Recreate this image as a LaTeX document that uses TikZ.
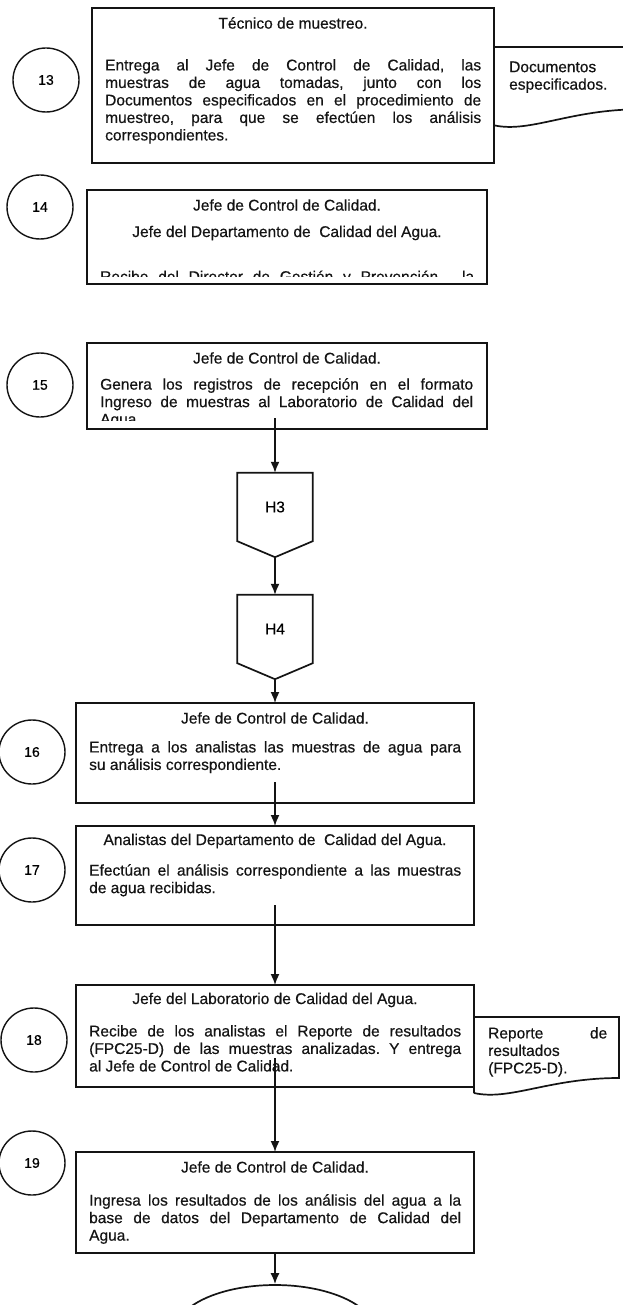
\documentclass[tikz,border=0pt]{standalone}
\usepackage{fontspec}
\setmainfont{Liberation Sans}[FakeBold=0.5]
\frenchspacing
\usetikzlibrary{positioning, calc, arrows.meta, shapes.geometric}
\definecolor{Ink}{HTML}{141414}
\definecolor{Paper}{HTML}{FFFFFF}
\tikzset{
    paso/.style={rectangle, draw=Ink, line width=1.7pt, anchor=north west, inner sep=0pt, outer sep=0pt},
    num/.style={ellipse, draw=Ink, line width=1.4pt, minimum width=66pt, minimum height=64pt, inner sep=0pt, font=\fontsize{14}{16}\selectfont},
    titulo/.style={font=\fontsize{15.5}{17.5}\selectfont, text=Ink, inner sep=0pt},
    cuerpo/.style={font=\fontsize{15.5}{17.5}\selectfont, text=Ink, inner sep=0pt, align=justify, anchor=north west},
    hoja/.style={rectangle, draw=none, anchor=north west, inner sep=0pt, outer sep=0pt},
    conector/.style={rectangle, draw=none, minimum width=75pt, minimum height=68pt, inner sep=0pt, font=\fontsize{15.5}{17.5}\selectfont},
    contorno/.style={draw=Ink, line width=1.7pt},
    flecha/.style={-{Latex[length=11pt, width=9pt]}, line width=1.6pt, draw=Ink},
}

\begin{document}
\begin{tikzpicture}[x=1pt, y=-1pt]
    \useasboundingbox[fill=Paper] (0,0) rectangle (623,1305);
    \clip (0,0) rectangle (623,1305);

    % Numeros de paso
    \foreach \n/\x/\y in {13/46/80, 14/40/207, 15/40/385, 16/32/752, 17/32/870, 18/34/1040, 19/32/1163}
        \node[num] (c\n) at (\x,\y) {\n};

    % Cajas
    \foreach \n/\x/\y/\w/\h in {13/92/8/402/155, 14/87/190/400/94, 15/87/343/400/86,
                               16/76/703/398/100, 17/76/826/398/99, 18/76/985/398/102, 19/76/1152/398/101}
        \node[paso, minimum width=\w pt, minimum height=\h pt] (b\n) at (\x,\y) {};

    \foreach \n/\t in {13/{Técnico de muestreo.}, 14/{Jefe de Control de Calidad.}, 15/{Jefe de Control de Calidad.},
                       16/{Jefe de Control de Calidad.}, 17/{Analistas del Departamento de\ \ Calidad del Agua.},
                       18/{Jefe del Laboratorio de Calidad del Agua.}, 19/{Jefe de Control de Calidad.}}
        \node[titulo] (t\n) at ($(b\n.north)+(0,15)$) {\t};

    \node[cuerpo, text width=376pt] (x13) at ($(b13.north west)+(13,51)$)
        {Entrega al Jefe de Control de Calidad, las\linebreak muestras de agua tomadas, junto con los\linebreak
         Documentos especificados en el procedimiento de\linebreak muestreo, para que se efectúen los análisis\linebreak
         correspondientes.};

    \node[titulo] (s14) at ($(b14.north)+(0,43)$) {Jefe del Departamento de\ \ Calidad del Agua.};
    \begin{scope}
        \clip (b14.north west) rectangle ($(b14.south east)+(0,-7)$);
        \node[cuerpo, text width=374pt, anchor=base west] (x14) at ($(b14.south west)+(13,-2)$)
            {\parfillskip=0pt Recibe del Director de Gestión y Prevención,\ \ la\par};
    \end{scope}

    \begin{scope}
        \clip (b15.north west) rectangle ($(b15.south east)+(0,-9)$);
        \node[cuerpo, text width=373pt] (x15) at ($(b15.north west)+(13,35)$)
            {Genera los registros de recepción en el formato\linebreak
             Ingreso de muestras al Laboratorio de Calidad del\linebreak Agua.};
    \end{scope}

    \node[cuerpo, text width=372pt] (x16) at ($(b16.north west)+(13,38)$)
        {Entrega a los analistas las muestras de agua para\linebreak su análisis correspondiente.};
    \node[cuerpo, text width=372pt] (x17) at ($(b17.north west)+(13,38)$)
        {Efectúan el análisis correspondiente a las muestras\linebreak de agua recibidas.};
    \node[cuerpo, text width=372pt] (x18) at ($(b18.north west)+(13,40)$)
        {Recibe de los analistas el Reporte de resultados\linebreak
         (FPC25-D) de las muestras analizadas. Y entrega\linebreak al Jefe de Control de Calidad.};
    \node[cuerpo, text width=372pt] (x19) at ($(b19.north west)+(13,42)$)
        {Ingresa los resultados de los análisis del agua a la\linebreak
         base de datos del Departamento de Calidad del\linebreak Agua.};

    % Documentos
    \node[hoja, minimum width=146pt, minimum height=78pt] (d13) at (b13.east |- c13.north) {};
    \draw[contorno] (d13.south west) -- (d13.north west) -- (d13.north east);
    \draw[contorno] (d13.south west) .. controls +(36,8) and +(-70,0) .. ($(d13.south east)+(0,-16)$);
    \node[cuerpo, text width=110pt, align=left] (e13) at ($(d13.north west)+(15,14)$) {Documentos\\especificados.};

    \node[hoja, minimum width=145pt, minimum height=76pt] (d18) at ($(b18.north east)+(0,32)$) {};
    \draw[contorno] (d18.south west) -- (d18.north west) -- (d18.north east) -- ($(d18.south east)+(0,-15)$)
        .. controls +(-70,0) and +(36,8) .. (d18.south west);
    \node[cuerpo, text width=119pt] (e18) at ($(d18.north west)+(14,10)$) {Reporte de\linebreak resultados\\(FPC25-D).};

    % Conectores de pagina
    \node[conector] (h3) at (275,507) {H3};
    \node[conector] (h4) at (275,629) {H4};
    \foreach \h in {h3, h4} {
        \coordinate (\h p) at ($(\h.south)+(0,16)$);
        \draw[contorno] (\h.south west) -- (\h.north west) -- (\h.north east) -- (\h.south east) -- (\h p) -- cycle;
    }

    % Fin
    \node[ellipse, draw=Ink, line width=1.7pt, minimum width=200pt, minimum height=94pt] (fin) at (275,1332) {};

    % Flechas
    \coordinate (s15) at (h3.north |- b15.south);
    \draw[flecha] ([yshift=11pt]s15) -- (h3.north);
    \draw[flecha] (h3p) -- (h4.north);
    \draw[flecha] (h4p) -- (h4p |- b16.north);
    \draw[flecha] ([yshift=21pt]b16.south) -- (b17.north);
    \draw[flecha] ([yshift=20pt]b17.south) -- (b18.north);
    \draw[flecha] ([yshift=29pt]b18.south) -- (b19.north);
    \draw[flecha] (b19.south) -- (fin.north);
\end{tikzpicture}
\end{document}
